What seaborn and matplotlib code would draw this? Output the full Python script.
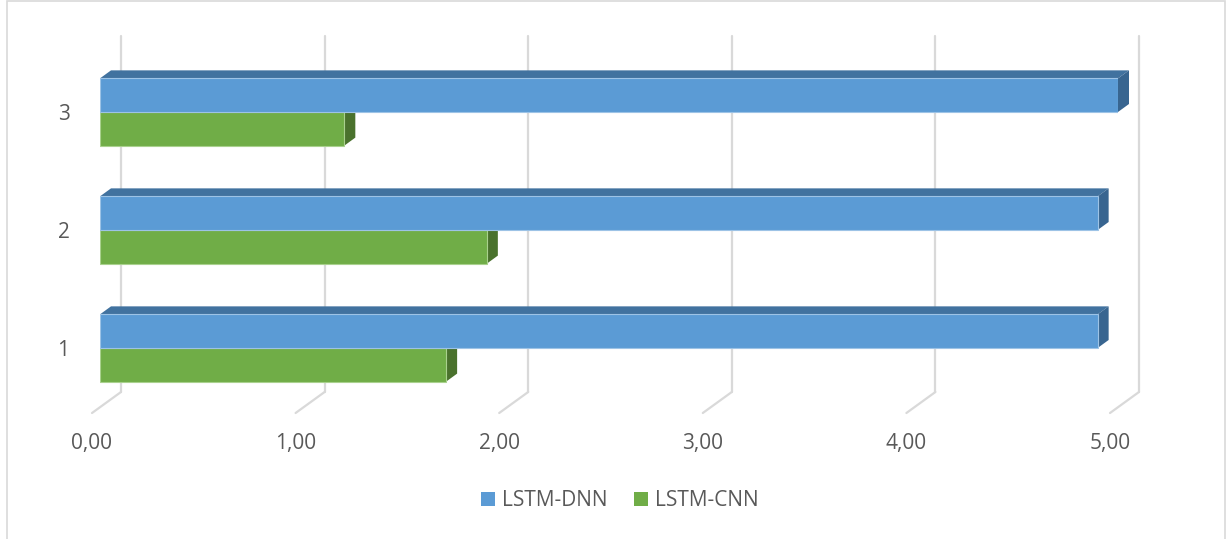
import matplotlib
matplotlib.use('Agg')
import numpy as np
import pandas as pd
import matplotlib.pyplot as plt
import seaborn as sns
from matplotlib.patches import Polygon, Patch, Rectangle
import matplotlib.transforms as mtransforms

categories = ['1', '2', '3']
lstm_dnn = [4.90, 4.90, 5.00]
lstm_cnn = [1.70, 1.90, 1.20]
models = ['LSTM-DNN', 'LSTM-CNN']
xtick_vals = [0, 1, 2, 3, 4, 5]

front = {'LSTM-DNN': '#5B9BD5', 'LSTM-CNN': '#70AD47'}
top_col = {'LSTM-DNN': '#41729F', 'LSTM-CNN': '#588A38'}
side_col = {'LSTM-DNN': '#386590', 'LSTM-CNN': '#4A722D'}
edge_col = {'LSTM-DNN': '#9DC3E6', 'LSTM-CNN': '#A9D18E'}
txt = '#595959'
grid = '#D9D9D9'

df = pd.DataFrame({
    'category': categories * 2,
    'model': [models[0]] * 3 + [models[1]] * 3,
    'value': lstm_dnn + lstm_cnn,
})

sns.set_style('white')
plt.rcParams['font.family'] = ['Open Sans', 'DejaVu Sans']

W, H = 1228, 539
fig = plt.figure(figsize=(W / 100, H / 100), dpi=100)
ax = fig.add_axes([100 / W, (H - 413) / H, 1018 / W, 377 / H])

sns.barplot(data=df, y='category', x='value', hue='model', orient='h',
            order=categories[::-1], hue_order=models,
            palette=[front[m] for m in models], width=0.57, saturation=1,
            legend=False, ax=ax, zorder=5)

ax.set_xlim(0, 5)
ax.set_ylim(2.551, -0.644)
for s in ax.spines.values():
    s.set_visible(False)
ax.set_xlabel('')
ax.set_ylabel('')
ax.set_xticks([])
ax.tick_params(axis='y', length=0, pad=22, labelsize=15, labelcolor=txt)

# pixel -> data scale
px_x = ax.transData.transform((1, 0))[0] - ax.transData.transform((0, 0))[0]
px_y = ax.transData.transform((0, 0))[1] - ax.transData.transform((0, 1))[1]
dx, dy = 11 / px_x, 8 / px_y

# 3D faces for each bar
n = len(categories)
for i, p in enumerate(ax.patches):
    m = models[i // n]
    x0, y0 = p.get_x(), p.get_y()
    w, h = p.get_width(), p.get_height()
    x1, ytop, ybot = x0 + w, y0, y0 + h
    p.set_edgecolor(edge_col[m])
    p.set_linewidth(0.8)
    zf = 4 if m == 'LSTM-DNN' else 2
    p.set_zorder(zf + 1)
    topf = Polygon([(x0, ytop), (x1, ytop), (x1 + dx, ytop - dy), (x0 + dx, ytop - dy)],
                   closed=True, fc=top_col[m], ec='none', zorder=zf, clip_on=False)
    sidef = Polygon([(x1, ytop), (x1 + dx, ytop - dy), (x1 + dx, ybot - dy), (x1, ybot)],
                    closed=True, fc=side_col[m], ec='none', zorder=zf, clip_on=False)
    ax.add_patch(topf)
    ax.add_patch(sidef)

# back wall grid lines and floor lines
ylo, yhi = ax.get_ylim()
wall_off = 21 / px_x
floor_front = 8 / px_x
floor_back = ylo - 21 / px_y
for v in xtick_vals:
    ax.plot([v + wall_off, v + wall_off], [yhi, floor_back], color=grid, lw=1.6,
            zorder=0, clip_on=False)
    ax.plot([v + wall_off, v - floor_front], [floor_back, ylo], color=grid, lw=1.6,
            zorder=0, clip_on=False)
    ax.text(v - floor_front, ylo + 30 / px_y, f'{v:.2f}'.replace('.', ','),
            ha='center', va='center', fontsize=15, color=txt, clip_on=False)

# outer border
fig.add_artist(Rectangle((7 / W, -0.1), (1225 - 7) / W, 1.1 - 1.5 / H,
                         transform=fig.transFigure, fill=False, ec=grid, lw=1.2))

handles = [Patch(fc=front[m], ec='none') for m in models]
fig.legend(handles, models, loc='center', bbox_to_anchor=(620 / W, 1 - 501 / H),
           ncol=2, frameon=False, fontsize=15, handlelength=0.65, handleheight=0.65,
           handletextpad=0.35, columnspacing=1.3, labelcolor=txt)

fig.savefig('out.png', dpi=100)
